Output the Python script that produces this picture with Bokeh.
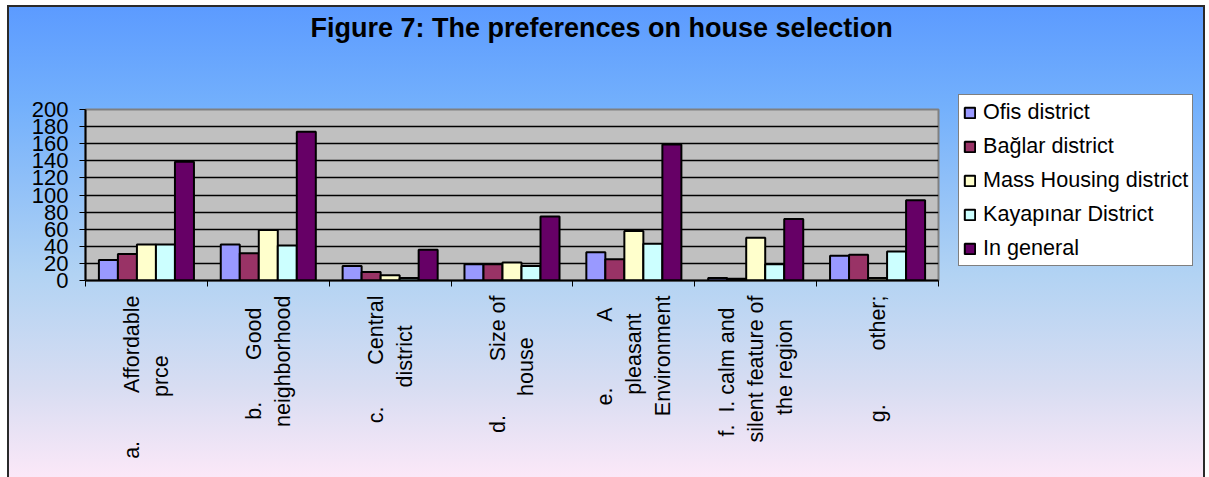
import numpy as np
from bokeh.plotting import figure
from bokeh.models import Range1d, FixedTicker, Legend, LegendItem, Title
from bokeh.embed import file_html
from bokeh.resources import INLINE

NB = "\u00a0"
title_text = "Figure 7: The preferences on house selection"
categories = [
    "a." + NB * 8 + "Affordable\nprce" + NB * 10,
    "b." + NB * 7 + "Good" + NB * 2 + "\nneighborhood",
    "c." + NB * 7 + "Central\ndistrict" + NB * 5,
    "d." + NB * 9 + "Size of\nhouse" + NB * 7,
    "e." + NB * 11 + "A" + NB * 2 + "\npleasant" + NB * 3 + "\nEnvironment",
    "f." + NB * 2 + "I. calm and" + NB * 2 + "\nsilent feature of\nthe region" + NB * 4,
    "g." + NB * 9 + "other;",
]
series_names = ["Ofis district", "Bağlar district", "Mass Housing district",
                "Kayapınar District", "In general"]
ofis = [24, 42, 17, 19, 33, 3, 29]
baglar = [31, 32, 10, 19, 25, 2, 30]
mass_housing = [42, 59, 6, 21, 58, 50, 3]
kayapinar = [42, 41, 3, 17, 43, 19, 34]
in_general = [139, 174, 36, 75, 159, 72, 94]
y_ticks = list(range(0, 201, 20))

series = [ofis, baglar, mass_housing, kayapinar, in_general]
colors = ["#9999ff", "#993366", "#ffffcc", "#ccffff", "#660066"]

FONT = "Liberation Sans"
n = len(categories)
centers = np.arange(n) + 0.5
bw = 0.156

p = figure(width=1209, height=477, output_backend="svg", toolbar_location=None,
           x_range=Range1d(0, n), y_range=Range1d(0, 200),
           frame_width=853, frame_height=171,
           min_border_left=85, min_border_top=109, min_border_bottom=197,
           min_border_right=271)
p.border_fill_color = None
p.background_fill_color = "#c0c0c0"
p.outline_line_color = "#808080"
p.outline_line_width = 2
bl = "linear-gradient(#2a2a2a, #2a2a2a)"
p.styles = {
    "background": (
        f"{bl} 7px 5px / 2px 472px no-repeat, "
        f"{bl} 7px 5px / 1198px 2px no-repeat, "
        f"{bl} 1203px 5px / 2px 472px no-repeat, "
        "linear-gradient(to bottom, #5c9bff 0%, #73b0fc 21%, #b2d3f3 57%, #d8ddf2 81%, #fbe8f8 100%) "
        "9px 7px / 1194px 470px no-repeat, white"
    ),
}

p.title.text = title_text
p.title.text_font = FONT
p.title.text_font_size = "27px"
p.title.text_font_style = "bold"
p.title.text_color = "black"
p.title.align = "left"
p.title.offset = 225
p.title.standoff = 0

# blank spacer between the frame and the title pushes the title up
spacer = Title(text=NB, text_font_size="10px", standoff=54)
p.add_layout(spacer, "above")

renderers = []
for i, (vals, col) in enumerate(zip(series, colors)):
    xs = centers + (i - 2) * bw
    r = p.vbar(x=xs, top=vals, width=bw, bottom=0, fill_color=col,
               line_color="black", line_width=2)
    renderers.append(r)

legend = Legend(items=[LegendItem(label=nm, renderers=[r]) for nm, r in zip(series_names, renderers)],
                location=(20, 14))
legend.label_text_font = FONT
legend.label_text_font_size = "21.6px"
legend.label_text_color = "black"
legend.glyph_width = 13
legend.glyph_height = 13
legend.label_height = 24
legend.spacing = 8
legend.padding = 4
legend.margin = 0
legend.label_standoff = 7
legend.border_line_color = "black"
legend.border_line_width = 1
legend.background_fill_color = "white"
legend.background_fill_alpha = 1
p.add_layout(legend, "right")

# x axis
xa = p.xaxis[0]
xa.ticker = FixedTicker(ticks=list(centers), minor_ticks=list(range(n + 1)))
xa.major_label_overrides = {float(c): lab for c, lab in zip(centers, categories)}
xa.major_label_orientation = np.pi / 2
xa.major_label_text_font = FONT
xa.major_label_text_font_size = "21.5px"
xa.major_label_text_color = "black"
xa.major_tick_line_color = None
xa.major_tick_in = 0
xa.major_tick_out = 0
xa.minor_tick_line_color = "black"
xa.minor_tick_in = 0
xa.minor_tick_out = 6
xa.axis_line_color = "black"
xa.axis_line_width = 2
xa.major_label_standoff = 9

ya = p.yaxis[0]
ya.ticker = FixedTicker(ticks=y_ticks)
ya.major_label_text_font = FONT
ya.major_label_text_font_size = "22px"
ya.major_label_text_color = "black"
ya.major_tick_line_color = "black"
ya.major_tick_in = 0
ya.major_tick_out = 6
ya.minor_tick_line_color = None
ya.axis_line_color = "black"
ya.axis_line_width = 2
ya.major_label_standoff = 11

p.xgrid.grid_line_color = None
p.ygrid.ticker = FixedTicker(ticks=y_ticks)
p.ygrid.grid_line_color = "black"
p.ygrid.grid_line_width = 1.5

open("out.html", "w").write(file_html(p, INLINE))
